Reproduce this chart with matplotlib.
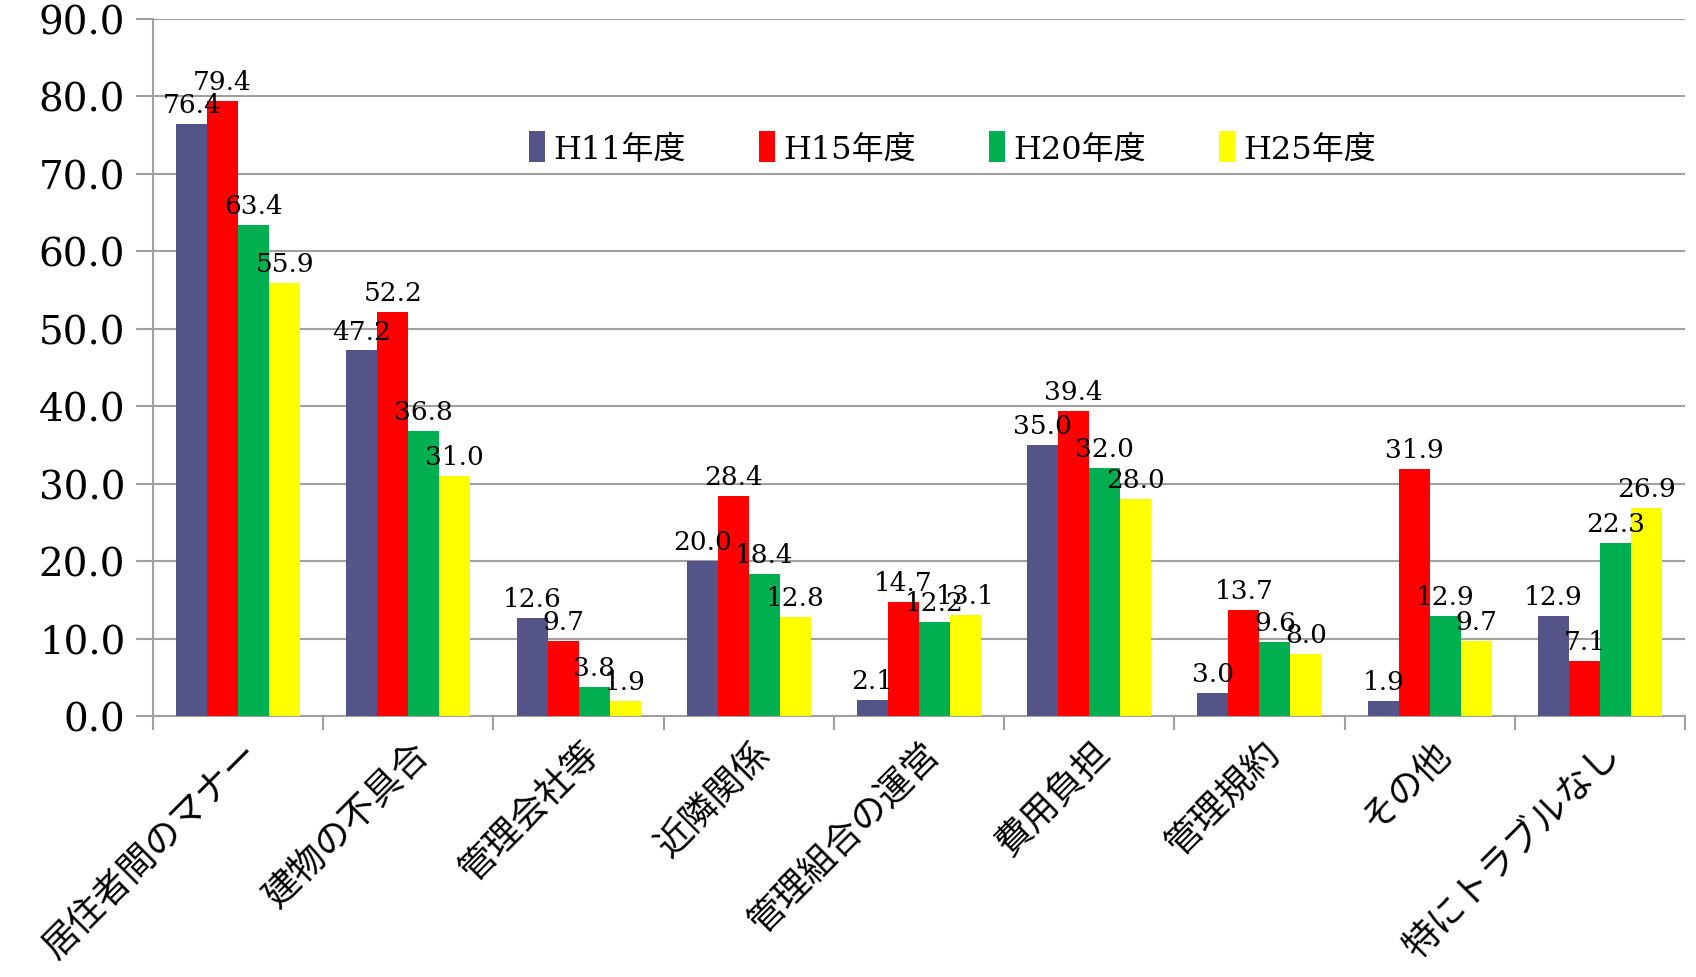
import matplotlib
matplotlib.use("Agg")
import matplotlib.pyplot as plt
import numpy as np

categories = ["居住者間のマナー", "建物の不具合", "管理会社等", "近隣関係", "管理組合の運営",
              "費用負担", "管理規約", "その他", "特にトラブルなし"]
series_names = ["H11年度", "H15年度", "H20年度", "H25年度"]
h11 = [76.4, 47.2, 12.6, 20.0, 2.1, 35.0, 3.0, 1.9, 12.9]
h15 = [79.4, 52.2, 9.7, 28.4, 14.7, 39.4, 13.7, 31.9, 7.1]
h20 = [63.4, 36.8, 3.8, 18.4, 12.2, 32.0, 9.6, 12.9, 22.3]
h25 = [55.9, 31.0, 1.9, 12.8, 13.1, 28.0, 8.0, 9.7, 26.9]
colors = ["#545488", "#FF0000", "#00B050", "#FFFF00"]

fam = ["DejaVu Serif", "Noto Sans CJK JP"]
plt.rcParams['font.family'] = fam

fig = plt.figure(figsize=(16.96, 9.78), dpi=100)
ax = fig.add_axes([153/1696, 1-717/978, (1685-153)/1696, (717-20)/978])

x = np.arange(len(categories))
bw = 0.182
allvals = [h11, h15, h20, h25]
for i, (vals, c, name) in enumerate(zip(allvals, colors, series_names)):
    pos = x + (i - 1.5) * bw
    ax.bar(pos, vals, width=bw, color=c, label=name, zorder=3)
    for p, v in zip(pos, vals):
        ax.annotate(f"{v:.1f}", (p, v), xytext=(0, 5), textcoords="offset points",
                    ha="center", va="bottom", fontsize=19, zorder=5)

ax.set_ylim(0, 90)
ax.set_xlim(-0.5, len(categories) - 0.5)
ax.set_yticks(np.arange(0, 91, 10))
ax.set_yticklabels([f"{v:.1f}" for v in np.arange(0, 91, 10)], fontsize=28)
ax.yaxis.grid(True, color="#A0A0A0", linewidth=1.5, zorder=0)
ax.set_axisbelow(True)

ax.set_xticks(np.arange(-0.5, len(categories) + 0.5, 1))
ax.set_xticklabels([])
ax.tick_params(axis="x", length=10, color="#A0A0A0", width=1.5)
ax.tick_params(axis="y", length=12, color="#A0A0A0", width=1.5, pad=8)
for xi, lab in zip(x, categories):
    ax.text(xi + 0.02, -2.5, lab, rotation=45, ha="right", va="top",
            rotation_mode="anchor", fontsize=26, transform=ax.transData)

for s in ["top", "right"]:
    ax.spines[s].set_visible(False)
for s in ["left", "bottom"]:
    ax.spines[s].set_color("#A0A0A0")
    ax.spines[s].set_linewidth(1.5)

leg = ax.legend(loc="center", bbox_to_anchor=(0.522, 0.815), ncol=4, frameon=False,
                fontsize=23, handlelength=0.5, handleheight=1.1, handletextpad=0.25,
                columnspacing=2.3)

fig.savefig("out.png", dpi=100)
